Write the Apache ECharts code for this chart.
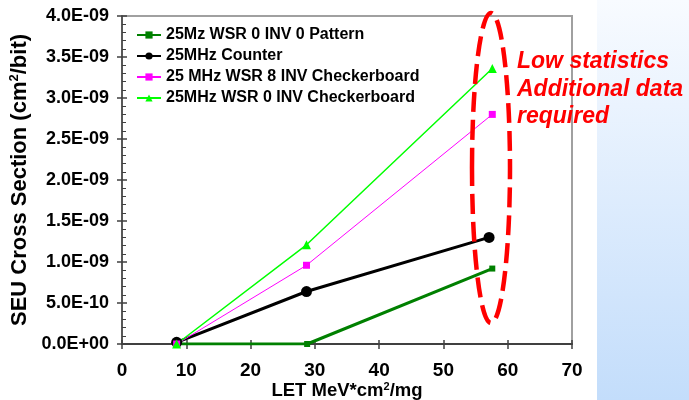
<!DOCTYPE html>
<html>
<head>
<meta charset="utf-8">
<script src="https://cdn.jsdelivr.net/npm/echarts@6/dist/echarts.min.js"></script>
<style>
  html, body { margin: 0; padding: 0; background: #fff; }
  #chart { width: 689px; height: 400px; }
</style>
</head>
<body>
<div id="chart"></div>
<script>
// values; y values are in units of 1E-09 cm^2/bit
const seriesNames = [
  '25Mz WSR 0 INV 0 Pattern',
  '25MHz Counter',
  '25 MHz WSR 8 INV Checkerboard',
  '25MHz WSR 0 INV Checkerboard'
];
const patternLET = [8.5, 28.8, 57.6];
const patternXS = [0, 0, 0.92];
const counterLET = [8.5, 28.7, 57.1];
const counterXS = [0.02, 0.64, 1.30];
const wsr8LET = [8.5, 28.7, 57.6];
const wsr8XS = [0, 0.96, 2.80];
const wsr0LET = [8.5, 28.7, 57.6];
const wsr0XS = [0, 1.21, 3.36];
const UNIT = 1e-9;

const font = "'Liberation Sans', Arial, sans-serif";

// 4.0E-09 style labels
const fmtSci = (v) => {
  const parts = (v * UNIT).toExponential(1).split('e');
  const n = parseInt(parts[1], 10);
  return parts[0] + 'E' + (n < 0 ? '-' : '+') + String(Math.abs(n)).padStart(2, '0');
};

const pairs = (xs, ys) => xs.map((x, i) => [x, ys[i]]);

const chart = echarts.init(document.getElementById('chart'));
chart.setOption({
  animation: false,
  textStyle: { fontFamily: font },
  grid: {
    left: 122, right: 117, top: 16, bottom: 56,
    outerBoundsMode: 'none',
    show: true, borderColor: '#a0a0a0', borderWidth: 2
  },
  legend: {
    orient: 'vertical',
    left: 131, top: 22,
    itemWidth: 24, itemHeight: 9, itemGap: 5,
    textStyle: { fontFamily: font, fontWeight: 'bold', fontSize: 16, color: '#000', lineHeight: 16 },
    data: seriesNames
  },
  xAxis: [{
    type: 'value', min: 0, max: 70, interval: 10,
    axisLine: { lineStyle: { color: '#404040', width: 2 } },
    axisTick: { show: true, length: 5, lineStyle: { color: '#404040', width: 1.5 } },
    axisLabel: { fontFamily: font, fontWeight: 'bold', fontSize: 19, color: '#000', margin: 17 },
    splitLine: { show: false },
    name: '{a|LET MeV*cm}{s|2}{a|/mg}',
    nameLocation: 'middle', nameGap: 37, nameMoveOverlap: false,
    nameTextStyle: {
      rich: {
        a: { fontFamily: font, fontWeight: 'bold', fontSize: 18.5, color: '#000' },
        s: { fontFamily: font, fontWeight: 'bold', fontSize: 11, color: '#000', verticalAlign: 'top', padding: [0, 0, 9, 0] }
      }
    }
  }, {
    type: 'value', min: 0, max: 70, interval: 10, position: 'bottom',
    axisLine: { show: false },
    axisTick: { show: true, inside: true, length: 4, lineStyle: { color: '#404040', width: 1.5 } },
    axisLabel: { show: false }, splitLine: { show: false }
  }],
  yAxis: [{
    type: 'value', min: 0, max: 4, interval: 0.5,
    axisLine: { show: true, lineStyle: { color: '#404040', width: 1.5 } },
    axisTick: { show: true, length: 5, lineStyle: { color: '#404040', width: 1.5 } },
    axisLabel: { fontFamily: font, fontWeight: 'bold', fontSize: 18, color: '#000', margin: 13, formatter: fmtSci },
    splitLine: { show: false },
    name: '{a|SEU Cross Section (cm}{s|2}{a|/bit)}',
    nameLocation: 'middle', nameGap: 91, nameRotate: 90,
    nameTextStyle: {
      rich: {
        a: { fontFamily: font, fontWeight: 'bold', fontSize: 22, color: '#000' },
        s: { fontFamily: font, fontWeight: 'bold', fontSize: 13, color: '#000', verticalAlign: 'top', padding: [0, 0, 10, 0] }
      }
    }
  }, {
    type: 'value', min: 0, max: 4, interval: 0.5, position: 'left',
    axisLine: { show: false },
    axisTick: { show: true, inside: true, length: 5, lineStyle: { color: '#404040', width: 1.5 } },
    minorTick: { show: true, splitNumber: 5, length: 4, lineStyle: { color: '#404040', width: 1 } },
    axisLabel: { show: false }, splitLine: { show: false }
  }],
  series: [{
    name: seriesNames[0], type: 'line', data: pairs(patternLET, patternXS),
    symbol: 'rect', symbolSize: 6,
    lineStyle: { color: '#008000', width: 3 }, itemStyle: { color: '#008000' }
  }, {
    name: seriesNames[1], type: 'line', data: pairs(counterLET, counterXS),
    symbol: 'circle', symbolSize: 11,
    lineStyle: { color: '#000000', width: 3 }, itemStyle: { color: '#000000' }
  }, {
    name: seriesNames[2], type: 'line', data: pairs(wsr8LET, wsr8XS),
    symbol: 'rect', symbolSize: 7,
    lineStyle: { color: '#ff00ff', width: 1 }, itemStyle: { color: '#ff00ff' }
  }, {
    name: seriesNames[3], type: 'line', data: pairs(wsr0LET, wsr0XS),
    symbol: 'triangle', symbolSize: 9,
    lineStyle: { color: '#00ff00', width: 1.5 }, itemStyle: { color: '#00ff00' }
  }],
  graphic: [{
    type: 'rect', z: -10, silent: true,
    shape: { x: 597, y: 0, width: 92, height: 400 },
    style: {
      fill: new echarts.graphic.LinearGradient(0, 0, 0, 1, [
        { offset: 0, color: '#f8fbff' },
        { offset: 1, color: '#c3ddfb' }
      ])
    }
  }, {
    type: 'ellipse', z: 10, silent: true,
    shape: { cx: 491, cy: 168, rx: 19, ry: 155 },
    style: { fill: 'none', stroke: '#ff0000', lineWidth: 4.5, lineDash: [20, 8] }
  }, {
    type: 'text', z: 10, silent: true,
    x: 517, y: 48,
    style: {
      text: 'Low statistics\nAdditional data\nrequired',
      font: 'italic bold 23px ' + font,
      fill: '#ff0000', lineHeight: 27.5, verticalAlign: 'top'
    }
  }]
});
</script>
</body>
</html>
